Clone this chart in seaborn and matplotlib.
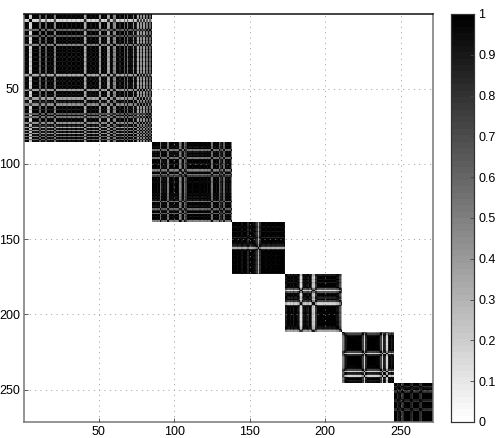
import matplotlib
matplotlib.use('Agg')
import matplotlib.pyplot as plt
import numpy as np
import seaborn as sns

block1 = [.06, .02, .08, .90, .85, .08, .03, .02, .03, .10,
          .45, .06, .02, .03, .40, .05, .02, .12, .02, .15,
          .55, .05, .02, .10, .03, .14, .03, .02, .12, .02,
          .02, .14, .03, .02, .10, .03, .02, .12, .04, .15,
          .70, .35, .06, .02, .12, .03, .02, .14, .04, .12,
          .65, .08, .03, .14, .04, .70, .65, .06, .15, .55,
          .60, .05, .03, .18, .04, .03, .40, .06, .50, .10,
          .03, .12, .60, .08, .18, .70, .10, .60, .12, .65,
          .10, .50, .08, .45, .10]
block2 = [.03, .06, .02, .10, .03, .50, .12, .03, .10, .02,
          .50, .08, .03, .02, .12, .03, .02, .08, .55, .35,
          .04, .50, .30, .04, .02, .02, .08, .02, .03, .02,
          .02, .06, .02, .02, .08, .03, .10, .03, .12, .50,
          .06, .02, .10, .03, .45, .20, .04, .45, .03, .10,
          .03, .10, .55]
block3 = [.03, .02, .02, .08, .03, .02, .10, .03, .02, .06,
          .18, .04, .02, .04, .08, .14, .25, .70, .20, .05,
          .03, .02, .06, .02, .02, .05, .02, .02, .06, .02,
          .02, .03, .05, .03, .10]
block4 = [.15, .06, .03, .10, .03, .15, .05, .03, .12, .40,
          .90, .40, .10, .05, .12, .18, .05, .30, .80, .85,
          .25, .05, .03, .02, .03, .06, .03, .02, .05, .02,
          .03, .06, .03, .05, .10, .12, .35, .70]
block5 = [.55, .30, .12, .05, .03, .02, .03, .03, .02, .04,
          .03, .04, .10, .30, .85, .20, .05, .03, .02, .03,
          .04, .03, .05, .05, .10, .30, .85, .15, .25, .85,
          .15, .05, .15, .08]
block6 = [.04, .02, .22, .10, .02, .25, .20, .04, .02, .03,
          .04, .16, .24, .03, .02, .04, .02, .20, .25, .04,
          .02, .02, .04, .02, .02, .03]
blocks = [block1, block2, block3, block4, block5, block6]
axis_ticks = [50, 100, 150, 200, 250]
cbar_ticks = [0, .1, .2, .3, .4, .5, .6, .7, .8, .9, 1]
cbar_labels = ['0', '0.1', '0.2', '0.3', '0.4', '0.5', '0.6', '0.7', '0.8', '0.9', '1']

n = sum(len(b) for b in blocks)
mat = np.zeros((n, n))
start = 0
for b in blocks:
    p = np.array(b)
    mat[start:start + len(b), start:start + len(b)] = 1 - np.abs(p[:, None] - p[None, :])
    start += len(b)

plt.rcParams['font.family'] = ['Liberation Sans', 'DejaVu Sans']
W, H = 498, 438
fig = plt.figure(figsize=(W / 100, H / 100), dpi=100)
ax = fig.add_axes([24 / W, 1 - 422 / H, 409 / W, 408 / H])
cax = fig.add_axes([451 / W, 1 - 422 / H, 23 / W, 408 / H])

sns.heatmap(mat, ax=ax, cbar_ax=cax, vmin=0, vmax=1, cmap=plt.get_cmap('gray_r', 64),
            xticklabels=False, yticklabels=False)

tick_pos = [t - 0.5 for t in axis_ticks]
ax.set_xticks(tick_pos)
ax.set_xticklabels(axis_ticks)
ax.set_yticks(tick_pos)
ax.set_yticklabels(axis_ticks, rotation=0)
ax.tick_params(direction='in', length=3, width=0.6, color='#444444', labelsize=9, pad=3)
ax.grid(True, linestyle=(0, (1.2, 5.2)), color='#8c8c8c', linewidth=0.6)
ax.set_axisbelow(False)
for name, spine in ax.spines.items():
    spine.set_visible(True)
    spine.set_color('#111111' if name == 'top' else '#777777')
    spine.set_linewidth(1.1)

cax.set_yticks(cbar_ticks)
cax.set_yticklabels(cbar_labels)
cax.tick_params(direction='in', length=3, width=0.6, color='#444444', labelsize=9, pad=3)
for spine in cax.spines.values():
    spine.set_visible(True)
    spine.set_color('#333333')
    spine.set_linewidth(0.8)

fig.savefig('out.png', dpi=100)
